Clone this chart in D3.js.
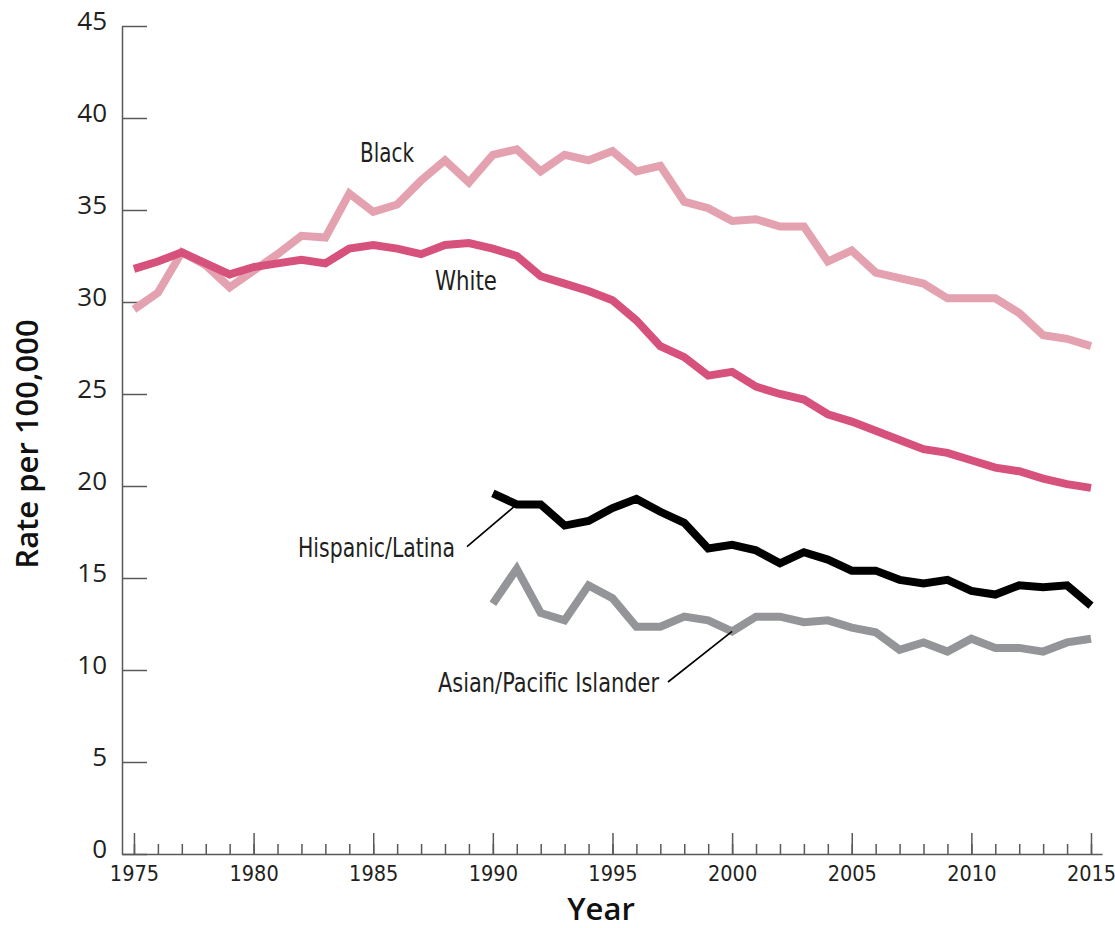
<!DOCTYPE html>
<html>
<head>
<meta charset="utf-8">
<script src="https://cdn.jsdelivr.net/npm/d3@7"></script>
<style>
  html, body { margin: 0; padding: 0; background: #fff; }
  svg { display: block; }
</style>
</head>
<body>
<script>
// ---- DATA ----
const years = d3.range(1975, 2016);
const yearsRecent = d3.range(1990, 2016);
const blackRates = [29.6, 30.5, 32.7, 32.0, 30.8, 31.7, 32.6, 33.6, 33.5, 35.9,
  34.9, 35.3, 36.6, 37.7, 36.5, 38.0, 38.3, 37.1, 38.0, 37.7,
  38.2, 37.1, 37.4, 35.45, 35.1, 34.4, 34.5, 34.1, 34.1, 32.2,
  32.8, 31.6, 31.3, 31.0, 30.2, 30.2, 30.2, 29.4, 28.2, 28.0, 27.6];
const whiteRates = [31.8, 32.2, 32.7, 32.1, 31.5, 31.9, 32.1, 32.3, 32.1, 32.9,
  33.1, 32.9, 32.6, 33.1, 33.2, 32.9, 32.5, 31.4, 31.0, 30.6,
  30.1, 29.0, 27.6, 27.0, 26.0, 26.2, 25.4, 25.0, 24.7, 23.9,
  23.5, 23.0, 22.5, 22.0, 21.8, 21.4, 21.0, 20.8, 20.4, 20.1, 19.9];
const hispanicRates = [19.6, 19.0, 19.0, 17.85, 18.1, 18.8, 19.3, 18.6, 18.0, 16.6,
  16.8, 16.5, 15.8, 16.4, 16.0, 15.4, 15.4, 14.9, 14.7, 14.9,
  14.3, 14.1, 14.6, 14.5, 14.6, 13.5];
const asianRates = [13.6, 15.5, 13.1, 12.7, 14.6, 13.9, 12.35, 12.35, 12.9, 12.7,
  12.1, 12.9, 12.9, 12.6, 12.7, 12.3, 12.05, 11.1, 11.5, 11.0,
  11.7, 11.2, 11.2, 11.0, 11.5, 11.7];
const yTicks = [0, 5, 10, 15, 20, 25, 30, 35, 40, 45];
const xMajorTicks = [1975, 1980, 1985, 1990, 1995, 2000, 2005, 2010, 2015];
const seriesNames = ["Black", "White", "Hispanic/Latina", "Asian/Pacific Islander"];
const yTitle = "Rate per 100,000";
const xTitle = "Year";

// ---- CHART ----
const W = 1115, H = 928;
const svg = d3.select("body").append("svg").attr("width", W).attr("height", H);

const x = d3.scaleLinear().domain([1974.5, 2015.46]).range([122, 1102]);
const y = d3.scaleLinear().domain([0, 45]).range([854, 26]);

const axisColor = "#58595b";
const textColor = "#231f20";
const narrow = "'Liberation Sans Narrow', 'DejaVu Sans Condensed', 'Roboto', sans-serif";

// Y axis
const yAxis = svg.append("g")
  .attr("transform", `translate(${x.range()[0]},0)`)
  .call(d3.axisLeft(y).tickValues(yTicks).tickSize(-25).tickSizeOuter(0).tickPadding(15));
yAxis.select(".domain").attr("stroke", axisColor).attr("stroke-width", 1.5);
yAxis.selectAll(".tick line").attr("stroke", axisColor).attr("stroke-width", 1.5);
yAxis.selectAll(".tick text")
  .attr("fill", textColor)
  .attr("font-family", "'Open Sans', sans-serif")
  .attr("font-size", 26)
  .attr("dy", "0.12em");

// X axis minor ticks
const xMinor = svg.append("g")
  .attr("transform", `translate(0,${y(0)})`)
  .call(d3.axisBottom(x).tickValues(years).tickSize(-10).tickSizeOuter(0).tickFormat(""));
xMinor.select(".domain").attr("stroke", axisColor).attr("stroke-width", 1.5);
xMinor.selectAll(".tick line").attr("stroke", axisColor).attr("stroke-width", 1.5);

// X axis major ticks
const xMajor = svg.append("g")
  .attr("transform", `translate(0,${y(0)})`)
  .call(d3.axisBottom(x).tickValues(xMajorTicks).tickSize(-21).tickSizeOuter(0)
    .tickFormat(d3.format("d")).tickPadding(12));
xMajor.select(".domain").remove();
xMajor.selectAll(".tick line").attr("stroke", axisColor).attr("stroke-width", 1.5);
xMajor.selectAll(".tick text")
  .attr("fill", textColor)
  .attr("font-family", narrow)
  .attr("font-size", 21.5);

// Axis titles
svg.append("text")
  .attr("transform", `translate(38,${(y(0) + y(45)) / 2 + 4}) rotate(-90)`)
  .attr("text-anchor", "middle")
  .attr("font-family", "'Open Sans', sans-serif")
  .attr("font-weight", 600)
  .attr("font-size", 31)
  .attr("fill", "#111")
  .text(yTitle);

svg.append("text")
  .attr("x", 601)
  .attr("y", 920)
  .attr("text-anchor", "middle")
  .attr("font-family", "'Open Sans', sans-serif")
  .attr("font-weight", 600)
  .attr("font-size", 31)
  .attr("fill", "#111")
  .text(xTitle);

// Lines
const line = d3.line().x(d => x(d[0])).y(d => y(d[1]));
const series = [
  { name: seriesNames[0], xs: years, vs: blackRates, color: "#e4a1af" },
  { name: seriesNames[1], xs: years, vs: whiteRates, color: "#d6517b" },
  { name: seriesNames[2], xs: yearsRecent, vs: hispanicRates, color: "#000000" },
  { name: seriesNames[3], xs: yearsRecent, vs: asianRates, color: "#939598" }
];
svg.append("g").selectAll("path")
  .data(series)
  .join("path")
  .attr("d", s => line(s.xs.map((yr, i) => [yr, s.vs[i]])))
  .attr("fill", "none")
  .attr("stroke", s => s.color)
  .attr("stroke-width", 8)
  .attr("stroke-linejoin", "miter")
  .attr("stroke-linecap", "butt");

// Leader lines (to 1991 Hispanic and 2000 Asian points)
const hispIdx = yearsRecent.indexOf(1991);
const asianIdx = yearsRecent.indexOf(2000);
svg.append("line")
  .attr("x1", 467).attr("y1", 546.7)
  .attr("x2", x(1991)).attr("y2", y(hispanicRates[hispIdx]))
  .attr("stroke", "#000").attr("stroke-width", 1.6);
svg.append("line")
  .attr("x1", 668).attr("y1", 682)
  .attr("x2", x(2000)).attr("y2", y(asianRates[asianIdx]))
  .attr("stroke", "#000").attr("stroke-width", 1.6);

// Series labels
const labels = [
  { text: seriesNames[0], x: 360, y: 162, len: 54 },
  { text: seriesNames[1], x: 435, y: 290, len: 62 },
  { text: seriesNames[2], x: 298, y: 557, len: 157 },
  { text: seriesNames[3], x: 438, y: 692, len: 221 }
];
svg.append("g").selectAll("text")
  .data(labels)
  .join("text")
  .attr("x", d => d.x)
  .attr("y", d => d.y)
  .attr("font-family", narrow)
  .attr("font-size", 26)
  .attr("fill", textColor)
  .attr("textLength", d => d.len)
  .attr("lengthAdjust", "spacingAndGlyphs")
  .text(d => d.text);
</script>
</body>
</html>
